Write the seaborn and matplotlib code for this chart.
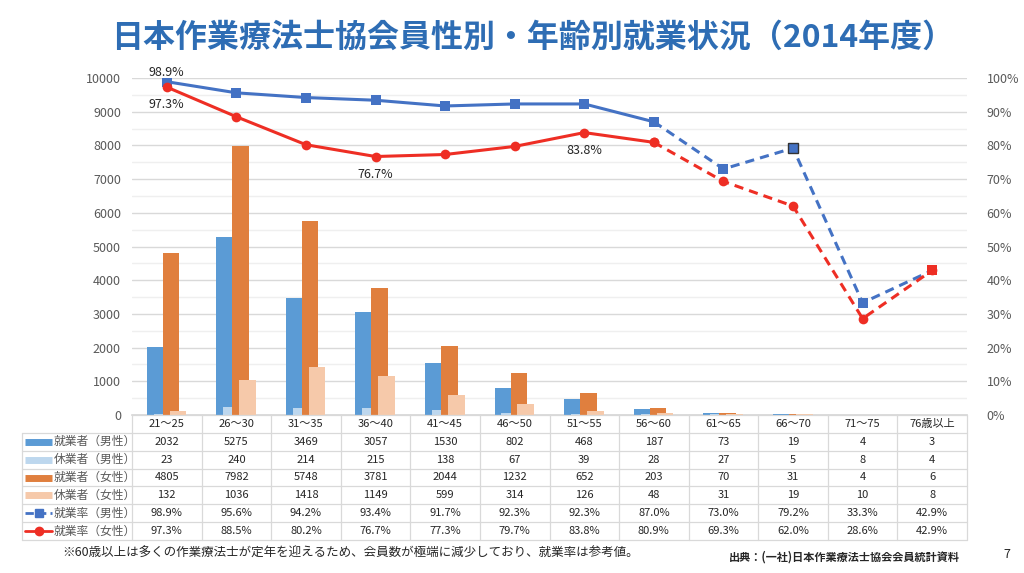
import numpy as np
import pandas as pd
import matplotlib.pyplot as plt
import seaborn as sns
from matplotlib.ticker import MultipleLocator, FuncFormatter

sns.set_theme(style="white")
plt.rcParams['font.family'] = ['Noto Sans CJK JP', 'DejaVu Sans']

# データ
ages = ["21～25", "26～30", "31～35", "36～40", "41～45", "46～50",
        "51～55", "56～60", "61～65", "66～70", "71～75", "76歳以上"]
emp_m = [2032, 5275, 3469, 3057, 1530, 802, 468, 187, 73, 19, 4, 3]
leave_m = [23, 240, 214, 215, 138, 67, 39, 28, 27, 5, 8, 4]
emp_f = [4805, 7982, 5748, 3781, 2044, 1232, 652, 203, 70, 31, 4, 6]
leave_f = [132, 1036, 1418, 1149, 599, 314, 126, 48, 31, 19, 10, 8]
rate_m = [98.9, 95.6, 94.2, 93.4, 91.7, 92.3, 92.3, 87.0, 73.0, 79.2, 33.3, 42.9]
rate_f = [97.3, 88.5, 80.2, 76.7, 77.3, 79.7, 83.8, 80.9, 69.3, 62.0, 28.6, 42.9]
row_labels = ["就業者（男性）", "休業者（男性）", "就業者（女性）",
              "休業者（女性）", "就業率（男性）", "就業率（女性）"]

c_emp_m = "#5b9bd5"
c_leave_m = "#bdd7ee"
c_emp_f = "#e07f3e"
c_leave_f = "#f6c9aa"
c_rate_m = "#4472c4"
c_rate_f = "#ee2e24"
grid_c = "#d9d9d9"
txt_c = "#595959"

x = np.arange(len(ages))

fig = plt.figure(figsize=(10.24, 5.73), dpi=100)
L, R = 132 / 1024, 967 / 1024
ax = fig.add_axes([L, 1 - 415 / 573, R - L, (415 - 78) / 573])
tax = fig.add_axes([L, 1 - 540 / 573, R - L, (540 - 415) / 573])

# 棒グラフ（重なりあり）
bars = [(emp_m, c_emp_m, -0.17), (leave_m, c_leave_m, -0.07),
        (emp_f, c_emp_f, 0.06), (leave_f, c_leave_f, 0.16)]
for vals, col, off in bars:
    df = pd.DataFrame({"x": x + off, "y": vals})
    sns.barplot(data=df, x="x", y="y", native_scale=True, width=0.24,
                color=col, saturation=1, errorbar=None, ax=ax, zorder=3,
                linewidth=0, edgecolor="none")

ax.set_xlim(-0.5, len(ages) - 0.5)
ax.set_ylim(0, 10000)
ax.yaxis.set_major_locator(MultipleLocator(1000))
ax.yaxis.set_minor_locator(MultipleLocator(500))
ax.grid(axis="y", which="major", color=grid_c, linewidth=1, zorder=0)
ax.grid(axis="y", which="minor", color="#efefef", linewidth=1, zorder=0)
ax.set_axisbelow(True)
ax.set_xticks([])
ax.set_xlabel("")
ax.set_ylabel("")
for s in ["top", "left", "right"]:
    ax.spines[s].set_visible(False)
ax.spines["bottom"].set_color(grid_c)
ax.tick_params(axis="y", which="both", length=0, labelsize=9, labelcolor=txt_c, pad=8)

# 就業率（折れ線）
ax2 = ax.twinx()
ax2.set_ylim(0, 100)
for rates, col, mk in [(rate_m, c_rate_m, "s"), (rate_f, c_rate_f, "o")]:
    solid = pd.DataFrame({"x": x[:8], "y": rates[:8]})
    dashed = pd.DataFrame({"x": x[7:], "y": rates[7:]})
    sns.lineplot(data=solid, x="x", y="y", color=col, linewidth=2.2,
                 marker=mk, markersize=7, markeredgewidth=0, ax=ax2)
    sns.lineplot(data=dashed, x="x", y="y", color=col, linewidth=2.2,
                 linestyle=(0, (3, 2)), marker=mk, markersize=7,
                 markeredgewidth=0, ax=ax2)
# 66～70 男性のマーカー（枠付き）、76歳以上は重なり
ax2.plot(x[9], rate_m[9], marker="s", markersize=7, color=c_rate_m,
         markeredgecolor="#333333", markeredgewidth=1, zorder=5)
ax2.plot(x[11], rate_f[11], marker="s", markersize=7, color=c_rate_f,
         markeredgewidth=0, zorder=5)

ax2.yaxis.set_major_locator(MultipleLocator(10))
ax2.yaxis.set_major_formatter(FuncFormatter(lambda v, p: f"{v:.0f}%"))
ax2.tick_params(axis="y", length=0, labelsize=9, labelcolor=txt_c, pad=14)
ax2.set_xlabel("")
ax2.set_ylabel("")
for s in ax2.spines.values():
    s.set_visible(False)
ax2.set_xlim(-0.5, len(ages) - 0.5)

lab_kw = dict(ha="center", fontsize=9, color="#262626")
ax2.annotate(f"{rate_m[0]:.1f}%", (x[0], rate_m[0]), xytext=(0, 2),
             textcoords="offset points", va="bottom", **lab_kw)
for i in [0, 3, 6]:
    ax2.annotate(f"{rate_f[i]:.1f}%", (x[i], rate_f[i]), xytext=(0, -8),
                 textcoords="offset points", va="top", **lab_kw)

# データテーブル
n = len(ages)
tax.set_xlim(-0.5, n - 0.5)
tax.set_ylim(7, 0)
tax.axis("off")
lx = -0.5 - (132 - 22) / ((967 - 132) / n)
lc = dict(color=grid_c, linewidth=0.9, clip_on=False)
tax.plot([-0.5, n - 0.5], [0, 0], **lc)
for r in range(1, 8):
    tax.plot([lx, n - 0.5], [r, r], **lc)
for k in range(n + 1):
    tax.plot([k - 0.5, k - 0.5], [0, 7], **lc)
tax.plot([lx, lx], [1, 7], **lc)

for i, a in enumerate(ages):
    tax.text(i, 0.5, a, ha="center", va="center", fontsize=8, color="#262626")

rows = [[str(v) for v in emp_m], [str(v) for v in leave_m],
        [str(v) for v in emp_f], [str(v) for v in leave_f],
        [f"{v:.1f}%" for v in rate_m], [f"{v:.1f}%" for v in rate_f]]
for r, vals in enumerate(rows):
    for i, v in enumerate(vals):
        tax.text(i, r + 1.5, v, ha="center", va="center", fontsize=8, color="#262626")

# 行ラベル（凡例記号付き）
s0, s1 = lx + 0.05, lx + 0.43
sym = [(c_emp_m, "-", None), (c_leave_m, "-", None), (c_emp_f, "-", None),
       (c_leave_f, "-", None), (c_rate_m, "--", "s"), (c_rate_f, "-", "o")]
for r, (lab, (col, ls, mk)) in enumerate(zip(row_labels, sym)):
    yy = r + 1.5
    if mk is None:
        tax.plot([s0, s1], [yy, yy], color=col, linewidth=5, solid_capstyle="butt", clip_on=False)
    else:
        tax.plot([s0, s1], [yy, yy], color=col, linewidth=2, linestyle=ls,
                 dashes=(3, 1.5) if ls == "--" else (None, None), clip_on=False)
        tax.plot([(s0 + s1) / 2], [yy], marker=mk, markersize=6, color=col, clip_on=False)
    tax.text(s1 + 0.02, yy, lab, ha="left", va="center", fontsize=8.5, color=txt_c)

# タイトル・注記
fig.text(0.52, 0.935, "日本作業療法士協会員性別・年齢別就業状況（2014年度）",
         ha="center", va="center", fontsize=23, fontweight="bold", color="#2e6db4")
fig.text(62 / 1024, 1 - 553 / 573, "※60歳以上は多くの作業療法士が定年を迎えるため、会員数が極端に減少しており、就業率は参考値。",
         ha="left", va="center", fontsize=9, color="#262626")
fig.text(960 / 1024, 1 - 557 / 573, "出典：(一社)日本作業療法士協会会員統計資料",
         ha="right", va="center", fontsize=8, fontweight="bold", color="#262626")
fig.text(1007 / 1024, 1 - 555 / 573, "7", ha="center", va="center", fontsize=9, color="#262626")

plt.savefig("out.png", dpi=100)
plt.close()
